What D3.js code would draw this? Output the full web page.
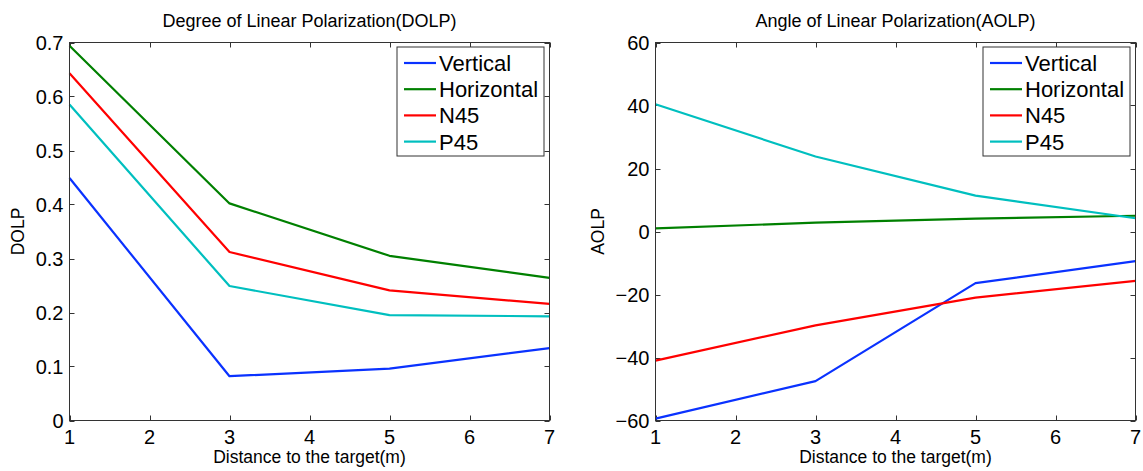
<!DOCTYPE html>
<html>
<head>
<meta charset="utf-8">
<script src="https://cdn.jsdelivr.net/npm/d3@7"></script>
<style>
  html, body { margin: 0; padding: 0; background: #fff; }
  svg { display: block; }
  text { font-family: "Liberation Sans", Arial, Helvetica, sans-serif; fill: #000; }
</style>
</head>
<body>
<svg id="chart" width="1143" height="471"></svg>
<script>
// ---- data ----
const distances = [1, 3, 5, 7];
const seriesNames = ["Vertical", "Horizontal", "N45", "P45"];
const seriesColors = ["#0a32ff", "#008000", "#ff0000", "#00bfbf"];

const dolpVertical   = [0.449, 0.082, 0.096, 0.134];
const dolpHorizontal = [0.694, 0.402, 0.305, 0.264];
const dolpN45        = [0.643, 0.312, 0.241, 0.216];
const dolpP45        = [0.585, 0.249, 0.195, 0.193];

const aolpVertical   = [-59.4, -47.5, -16.4, -9.4];
const aolpHorizontal = [1.0, 2.8, 4.1, 5.0];
const aolpN45        = [-41.0, -29.8, -21.0, -15.7];
const aolpP45        = [40.4, 23.8, 11.4, 4.2];

const xTicks = [1, 2, 3, 4, 5, 6, 7];
const dolpTicks = [0, 0.1, 0.2, 0.3, 0.4, 0.5, 0.6, 0.7];
const aolpTicks = [-60, -40, -20, 0, 20, 40, 60];

const panels = [
  {
    title: "Degree of Linear Polarization(DOLP)",
    yLabel: "DOLP",
    xLabel: "Distance to the target(m)",
    series: [dolpVertical, dolpHorizontal, dolpN45, dolpP45],
    yDomain: [0, 0.7],
    yTicks: dolpTicks,
    yFormat: d => d === 0 ? "0" : d3.format(".1f")(d),
    left: 69.5, right: 549.5, top: 42.5, bottom: 420.5,
    yLabelX: 24
  },
  {
    title: "Angle of Linear Polarization(AOLP)",
    yLabel: "AOLP",
    xLabel: "Distance to the target(m)",
    series: [aolpVertical, aolpHorizontal, aolpN45, aolpP45],
    yDomain: [-60, 60],
    yTicks: aolpTicks,
    yFormat: d => d < 0 ? "\u2212" + Math.abs(d) : String(d),
    left: 655.5, right: 1135.5, top: 42.5, bottom: 420.5,
    yLabelX: 604
  }
];

const svg = d3.select("#chart");
const axisColor = "#333";
const tickLen = 5;

panels.forEach(p => {
  const x = d3.scaleLinear().domain([1, 7]).range([p.left, p.right]);
  const y = d3.scaleLinear().domain(p.yDomain).range([p.bottom, p.top]);
  const g = svg.append("g");

  g.append("rect")
    .attr("x", p.left).attr("y", p.top)
    .attr("width", p.right - p.left).attr("height", p.bottom - p.top)
    .attr("fill", "#fff");

  // ticks (inward) on all four sides
  xTicks.forEach(t => {
    const xv = Math.round(x(t)) + 0.5;
    g.append("line").attr("x1", xv).attr("x2", xv)
      .attr("y1", p.bottom).attr("y2", p.bottom - tickLen)
      .attr("stroke", axisColor).attr("stroke-width", 1);
    g.append("line").attr("x1", xv).attr("x2", xv)
      .attr("y1", p.top).attr("y2", p.top + tickLen)
      .attr("stroke", axisColor).attr("stroke-width", 1);
    g.append("text")
      .attr("x", x(t)).attr("y", 444)
      .attr("text-anchor", "middle")
      .attr("font-size", 20)
      .text(String(t));
  });
  p.yTicks.forEach(t => {
    const yv = Math.round(y(t)) + 0.5;
    g.append("line").attr("x1", p.left).attr("x2", p.left + tickLen)
      .attr("y1", yv).attr("y2", yv)
      .attr("stroke", axisColor).attr("stroke-width", 1);
    g.append("line").attr("x1", p.right).attr("x2", p.right - tickLen)
      .attr("y1", yv).attr("y2", yv)
      .attr("stroke", axisColor).attr("stroke-width", 1);
    g.append("text")
      .attr("x", p.left - 6).attr("y", y(t))
      .attr("dy", "0.35em")
      .attr("text-anchor", "end")
      .attr("font-size", 20)
      .text(p.yFormat(t));
  });

  // lines
  const line = d3.line().x((d, i) => x(distances[i])).y(d => y(d));
  p.series.forEach((s, i) => {
    g.append("path")
      .datum(s)
      .attr("d", line)
      .attr("fill", "none")
      .attr("stroke", seriesColors[i])
      .attr("stroke-width", 2.2)
      .attr("stroke-linejoin", "round");
  });

  // box
  g.append("rect")
    .attr("x", p.left).attr("y", p.top)
    .attr("width", p.right - p.left).attr("height", p.bottom - p.top)
    .attr("fill", "none").attr("stroke", axisColor).attr("stroke-width", 1);

  // title
  g.append("text")
    .attr("x", (p.left + p.right) / 2).attr("y", 27)
    .attr("text-anchor", "middle")
    .attr("font-size", 18)
    .text(p.title);

  // x label
  g.append("text")
    .attr("x", (p.left + p.right) / 2).attr("y", 463)
    .attr("text-anchor", "middle")
    .attr("font-size", 17.5)
    .text(p.xLabel);

  // y label
  g.append("text")
    .attr("transform", `translate(${p.yLabelX},${(p.top + p.bottom) / 2}) rotate(-90)`)
    .attr("text-anchor", "middle")
    .attr("font-size", 17.5)
    .text(p.yLabel);

  // legend
  const lx = p.right - 152.5, ly = p.top + 4.5, lw = 147, lh = 109;
  const lg = g.append("g");
  lg.append("rect")
    .attr("x", lx).attr("y", ly).attr("width", lw).attr("height", lh)
    .attr("fill", "#fff").attr("stroke", axisColor).attr("stroke-width", 1);
  seriesNames.forEach((name, i) => {
    const cy = ly + 16 + i * 26.2;
    lg.append("line")
      .attr("x1", lx + 7).attr("x2", lx + 39)
      .attr("y1", cy).attr("y2", cy)
      .attr("stroke", seriesColors[i]).attr("stroke-width", 2.2);
    lg.append("text")
      .attr("x", lx + 42).attr("y", cy)
      .attr("dy", "0.36em")
      .attr("font-size", 22)
      .text(name);
  });
});
</script>
</body>
</html>
